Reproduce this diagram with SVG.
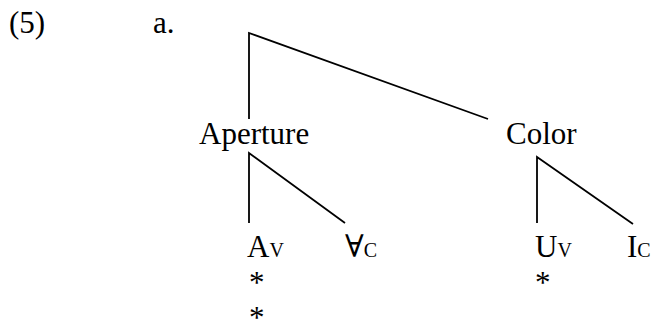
<svg xmlns="http://www.w3.org/2000/svg" width="657" height="324" viewBox="0 0 657 324">
<style>
text{font-family:"Liberation Serif","Times New Roman","DejaVu Serif",serif;font-size:31px;fill:#000}
.s{font-size:20px}
.e{stroke:#000;stroke-width:1.8;fill:none}
</style>
<rect width="657" height="324" fill="#fff"/>
<text x="9" y="33">(5)</text>
<text x="153" y="33">a.</text>
<g id="edges">
<polyline class="e" points="249,119 249,33 488,119"/>
<polyline class="e" points="249,223 249,153 345,223"/>
<polyline class="e" points="537,223 537,157 633,224"/>
</g>
<g id="aperture"><text x="199" y="144">Aperture</text></g>
<g id="color"><text x="506" y="144">Color</text></g>
<g id="av"><text x="247" y="257">A<tspan class="s">V</tspan></text>
<text x="249" y="293">*</text>
<text x="249" y="328">*</text></g>
<g id="vc"><text x="345" y="257">∀<tspan class="s">C</tspan></text></g>
<g id="uv"><text x="535" y="257">U<tspan class="s">V</tspan></text>
<text x="535" y="293">*</text></g>
<g id="ic"><text x="627" y="257">I<tspan class="s">C</tspan></text></g>
</svg>
